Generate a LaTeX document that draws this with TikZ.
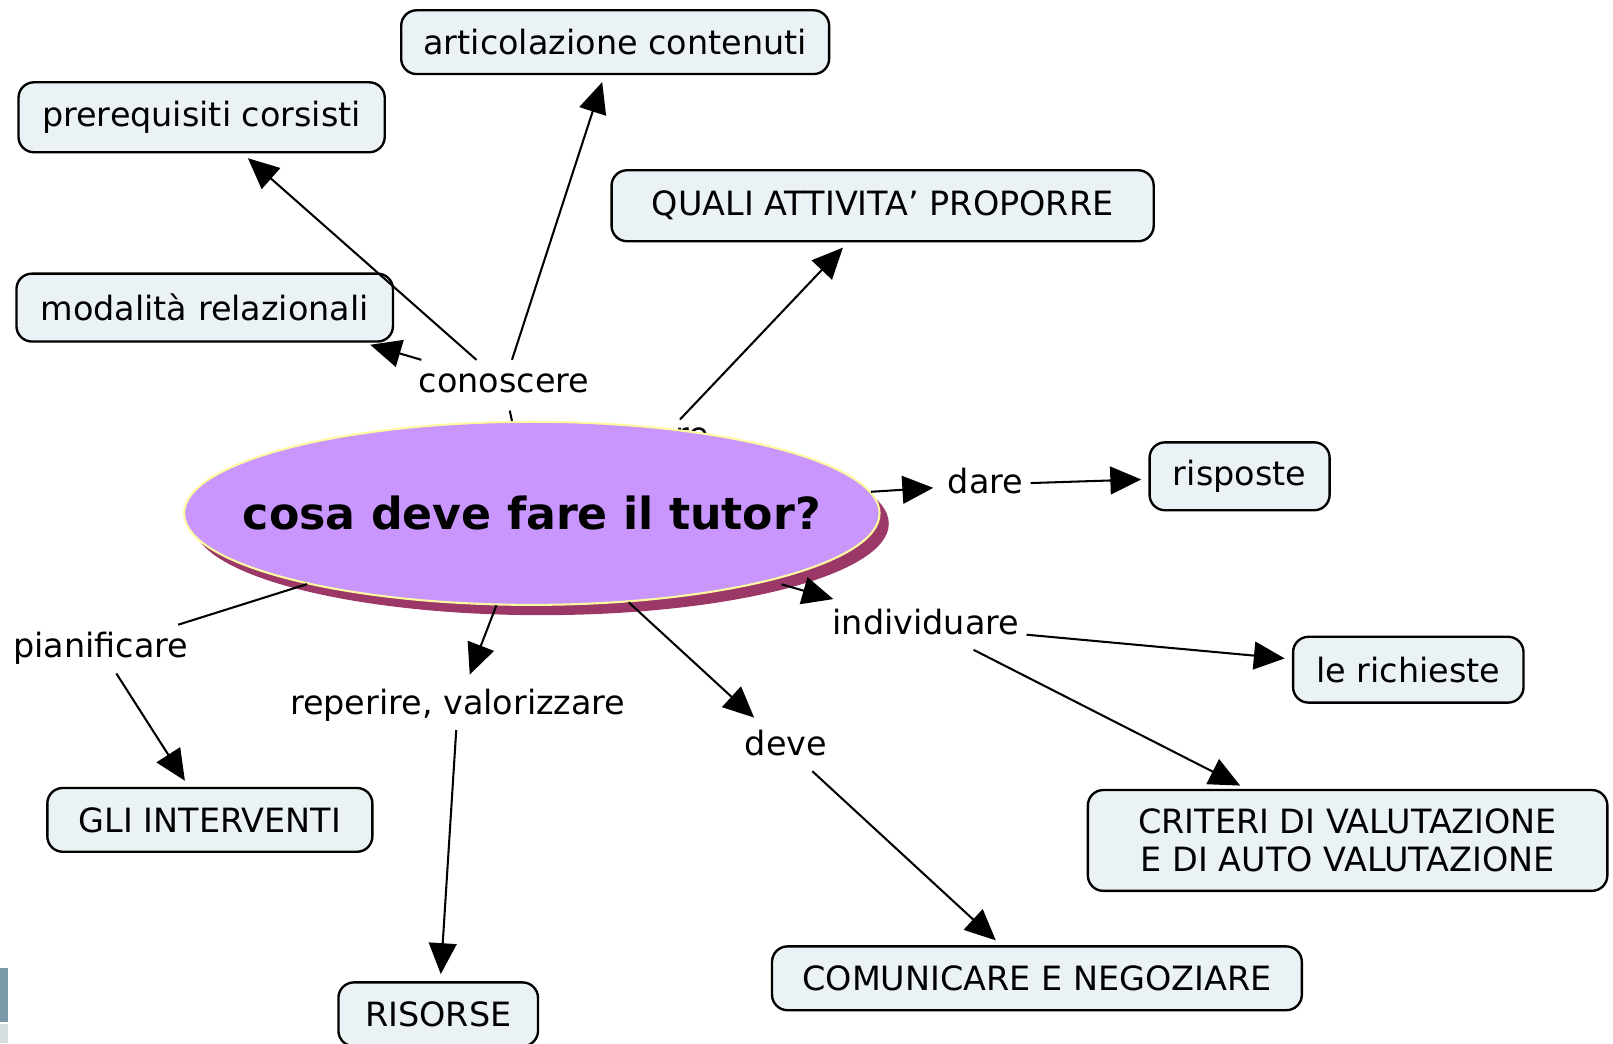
\documentclass[tikz,border=0pt]{standalone}
\usepackage{fontspec}
\setmainfont{DejaVu Sans}
\usetikzlibrary{arrows.meta,shapes.geometric}
\definecolor{boxfill}{RGB}{235,242,246}
\definecolor{ellfill}{RGB}{200,150,252}
\definecolor{ellshadow}{RGB}{156,56,104}
\definecolor{ellborder}{RGB}{255,250,160}
\definecolor{slideblue}{RGB}{122,154,168}
\definecolor{slidegray}{RGB}{214,222,226}
\begin{document}
\begin{tikzpicture}[x=1pt,y=1pt,
  every node/.style={font=\fontsize{32.5}{39}\selectfont},
  box/.style={draw=black, line width=2.3pt, rounded corners=15pt, fill=boxfill, inner sep=0pt, align=center},
  lbl/.style={inner sep=7pt, text height=25pt, text depth=8pt},
  conn/.style={line width=2pt},
  arr/.style={conn, -{Triangle[length=30pt,width=27pt]}, shorten >=7pt},
]
\useasboundingbox (0,0) rectangle (1568,-1014);
\clip (0,0) rectangle (1568,-1014);
\fill[white] (0,0) rectangle (1568,-1014);

% bottom-left slide fragment
\fill[slideblue] (0,-941) rectangle (8,-993);
\fill[slidegray] (0,-995) rectangle (8,-1014);

% hidden linking label behind the ellipse
\node[lbl] (rel) at (673,-425.5) {re};

% central concept
\fill[ellshadow] (526,-509) ellipse [x radius=338pt, y radius=89pt];
\node[ellipse, fill=ellfill, draw=ellborder, line width=2pt, minimum width=676pt, minimum height=178pt, inner sep=0pt] (tutor) at (517,-499) {\makebox[0pt]{\bfseries\fontsize{43}{50}\selectfont cosa deve fare il tutor?}};

% concept boxes
\node[box, minimum width=416pt, minimum height=62pt] (artic) at (598,-41) {articolazione contenuti};
\node[box, minimum width=356pt, minimum height=68pt] (prereq) at (196,-114) {prerequisiti corsisti};
\node[box, minimum width=527pt, minimum height=69pt] (quali) at (858,-200) {QUALI ATTIVITA’ PROPORRE};
\node[box, minimum width=366pt, minimum height=66pt] (modal) at (199,-299) {modalità relazionali};
\node[box, minimum width=175pt, minimum height=66pt] (risposte) at (1205,-463) {risposte};
\node[box, minimum width=224pt, minimum height=64pt] (richieste) at (1369,-651) {le richieste};
\node[box, minimum width=505pt, minimum height=98pt, font=\fontsize{32.5}{37}\selectfont] (criteri) at (1310,-817) {CRITERI DI VALUTAZIONE\\E DI AUTO VALUTAZIONE};
\node[box, minimum width=515pt, minimum height=62pt] (comun) at (1008,-951) {COMUNICARE E NEGOZIARE};
\node[box, minimum width=194pt, minimum height=62pt] (risorse) at (426,-986) {RISORSE};
\node[box, minimum width=316pt, minimum height=62pt] (gli) at (204,-797) {GLI INTERVENTI};

% linking labels
\node[lbl] (conoscere) at (490,-373.5) {conoscere};
\node[lbl] (dare) at (958,-471) {dare};
\node[lbl] (indiv) at (900,-608) {individuare};
\node[lbl] (pian) at (98,-631) {pianificare};
\node[lbl] (reper) at (445,-686) {reperire, valorizzare};
\node[lbl] (deve) at (764,-726) {deve};

% connectors
\draw[conn, shorten >=2pt] (tutor) -- (conoscere);
\draw[arr] (conoscere) -- ([xshift=-30pt]modal.south east);
\draw[arr] (conoscere) -- (prereq);
\draw[arr] (conoscere) -- (artic);
\draw[arr] ([xshift=-12pt,yshift=-6pt]rel.north) -- (quali);
\draw[arr] (tutor) -- (dare);
\draw[arr] (dare) -- (risposte);
\draw[arr, shorten <=12pt] (tutor) -- (indiv);
\draw[arr] (indiv) -- (richieste);
\draw[arr] (indiv) -- (criteri);
\draw[arr] (tutor) -- (deve);
\draw[arr] (deve) -- (comun);
\draw[arr] (tutor) -- (reper);
\draw[arr] (reper) -- (risorse);
\draw[conn] (tutor) -- (pian);
\draw[arr] (pian) -- (gli);
\end{tikzpicture}
\end{document}
